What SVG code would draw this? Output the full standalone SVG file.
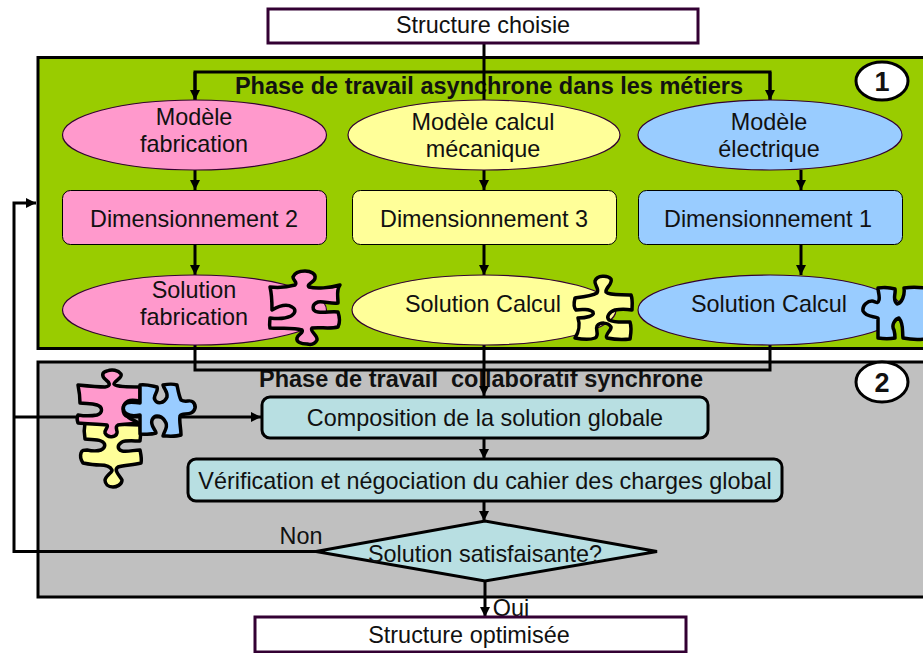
<svg xmlns="http://www.w3.org/2000/svg" width="923" height="653" viewBox="0 0 923 653">
<style>
text{font-family:"Liberation Sans",Arial,sans-serif;font-size:23.400px;fill:#111;text-anchor:middle}
.b{font-weight:bold;font-size:23.500px}
.t{font-weight:bold;font-size:27px}
.line{fill:none;stroke:#000;stroke-width:3}
.e{stroke:#330033;stroke-width:1.2}
.r{stroke:#000;stroke-width:1}
.box{fill:#fff;stroke:#330033;stroke-width:3}
.teal{fill:#b8dfe2;stroke:#000;stroke-width:3}
.p{stroke:#000;stroke-width:3.5;stroke-linejoin:round}
.pink{fill:#ff99cc}.yellow{fill:#ffff99}.blue{fill:#99ccff}
</style>
<defs><marker id="a" markerUnits="userSpaceOnUse" markerWidth="12" markerHeight="12" refX="10" refY="5" orient="auto"><path d="M0,0L10,5L0,10Z" fill="#000"/></marker></defs>
<rect width="923" height="653" fill="#fff"/>
<g id="phase1"><rect x="38" y="57.500" width="900" height="291" fill="#99cc00" stroke="#000" stroke-width="3"/><text class="b" x="489" y="94">Phase de travail asynchrone dans les métiers</text></g>
<g id="phase2"><rect x="38" y="362" width="900" height="235" fill="#c0c0c0" stroke="#000" stroke-width="3"/><text class="b" x="481" y="387">Phase de travail&#160; collaboratif synchrone</text></g>
<g id="connectors">
<path class="line" d="M484,44V112" marker-end="url(#a)"/>
<path class="line" d="M195,100V72H770V100" />
<path class="line" d="M195,72V100" marker-end="url(#a)"/>
<path class="line" d="M770,72V100" marker-end="url(#a)"/>
<path class="line" d="M195,170V190" marker-end="url(#a)"/>
<path class="line" d="M484,170V190" marker-end="url(#a)"/>
<path class="line" d="M801,170V190" marker-end="url(#a)"/>
<path class="line" d="M195,245V275" marker-end="url(#a)"/>
<path class="line" d="M484,245V275" marker-end="url(#a)"/>
<path class="line" d="M801,245V275" marker-end="url(#a)"/>
<path class="line" d="M195,345V370H770V345"/>
<path class="line" d="M484,345V396" marker-end="url(#a)"/>
<path class="line" d="M484,438V459" marker-end="url(#a)"/>
<path class="line" d="M484,501V521" marker-end="url(#a)"/>
<path class="line" d="M485,581V617" marker-end="url(#a)"/>
<path class="line" d="M316,551.500H14V203H36" marker-end="url(#a)"/>
<path class="line" d="M14,417H261" marker-end="url(#a)"/>
</g>
<g id="badge1"><ellipse cx="882" cy="81" rx="26" ry="19" fill="#fff" stroke="#000" stroke-width="3"/><text class="t" x="882" y="91">1</text></g>
<g id="badge2"><ellipse cx="882" cy="382" rx="26" ry="20" fill="#fff" stroke="#000" stroke-width="3"/><text class="t" x="882" y="392">2</text></g>
<g id="structure-choisie"><rect class="box" x="268" y="9" width="430" height="34"/><text x="483" y="33">Structure choisie</text></g>
<g id="modele-fabrication"><ellipse class="e pink" cx="194.500" cy="135" rx="132" ry="35"/><text x="194" y="125">Modèle</text><text x="194" y="152">fabrication</text></g>
<g id="modele-calcul"><ellipse class="e yellow" cx="484" cy="135" rx="136" ry="35"/><text x="483" y="130">Modèle calcul</text><text x="483" y="157">mécanique</text></g>
<g id="modele-electrique"><ellipse class="e blue" cx="770" cy="135" rx="132" ry="35"/><text x="769" y="130">Modèle</text><text x="769" y="157">électrique</text></g>
<g id="dim2"><rect class="r pink" x="62.500" y="190.500" width="264" height="54" rx="8"/><text x="194" y="227">Dimensionnement 2</text></g>
<g id="dim3"><rect class="r yellow" x="352.500" y="190.500" width="264" height="54" rx="8"/><text x="484" y="227">Dimensionnement 3</text></g>
<g id="dim1"><rect class="r blue" x="638.500" y="190.500" width="264" height="54" rx="8"/><text x="768" y="227">Dimensionnement 1</text></g>
<g id="solution-fabrication"><ellipse class="e pink" cx="194.500" cy="310" rx="132" ry="35"/><text x="194" y="298">Solution</text><text x="194" y="325">fabrication</text></g>
<g id="solution-calcul-1"><ellipse class="e yellow" cx="484" cy="310" rx="132" ry="35"/><text x="483" y="312">Solution Calcul</text></g>
<g id="solution-calcul-2"><ellipse class="e blue" cx="770" cy="310" rx="132" ry="35"/><text x="769" y="312">Solution Calcul</text></g>
<g id="puzzle-pink"><path class="p pink" d="M270,287C280,288 288,287 295,285C298,282 293,281 293,277C295,272 300,271 305,271C311,271 316,274 315,278C315,282 306,284 309,287C316,289 330,288 340,285C336,290 338,296 338,303C331,304 324,301 318,302C312,304 311,311 318,312C325,313 332,311 338,312C340,318 340,323 338,327C330,329 320,327 312,328C309,331 318,335 317,340C315,344 311,345 307,344C301,344 296,342 297,338C298,334 304,333 302,330C292,327 280,329 270,328C269,324 270,321 270,318C277,319 285,319 291,316C296,313 296,309 292,307C286,303 279,306 272,310C272,302 272,295 270,287Z"/></g>
<g id="puzzle-yellow"><path class="p yellow" d="M575,298C583,297 592,296 597,293C600,289 594,285 595,281C597,275 608,275 611,279C613,284 605,288 606,292C610,296 622,294 631,295C633,300 632,305 632,310C626,309 620,309 615,310C609,312 606,317 609,320C615,323 624,322 630,322C632,328 631,333 630,339C622,340 612,339 607,338C604,335 612,330 611,327C608,322 600,322 597,326C595,330 600,335 595,338C590,340 580,339 575,338C579,332 580,324 578,318C586,318 595,316 593,312C590,309 581,309 576,310C573,307 574,302 575,298Z"/></g>
<g id="puzzle-blue"><path class="p blue" d="M878,288C884,287 892,288 895,289C896,294 892,300 897,304C902,303 905,295 904,288C910,287 918,287 925,288V339C916,340 908,339 903,338C902,332 904,324 899,318C895,319 891,325 894,330C895,334 895,337 895,338C890,339 884,339 878,338V318C873,316 866,317 863,311C862,305 868,301 872,301C875,301 878,305 879,300C880,296 878,292 878,288Z"/></g>
<g id="puzzle-group">
<path class="p yellow" d="M85,423L140,425C141,430 141,436 140,441C134,441 126,440 122,442C117,445 117,449 122,451C128,452 134,450 140,450C141,455 142,459 141,463C133,465 124,465 118,467C113,470 120,476 122,480C122,485 116,487 113,487C108,487 105,484 105,480C106,475 113,472 112,470C110,466 106,465 100,465C94,465 88,464 83,463C81,460 80,456 81,453C82,450 84,450 87,450C92,451 98,451 101,450C106,447 106,443 101,441C96,439 90,440 85,439C84,434 84,428 85,423Z"/>
<path class="p pink" d="M78,385C88,386 98,387 105,387C112,386 109,382 106,380C101,376 102,372 107,371C112,369 118,370 121,374C123,378 114,381 114,384C116,387 130,387 140,387V401C135,400 130,400 128,401C122,404 121,414 128,417C132,420 136,421 138,423C132,424 124,424 118,425C114,427 118,431 117,433C116,437 108,439 105,433C104,430 109,427 107,425C97,424 88,424 78,423C77,420 77,417 78,415C84,416 92,416 97,415C103,413 103,407 97,405C91,403 86,404 80,403C80,396 79,390 78,385Z"/>
<path class="p blue" d="M140,385C146,384 152,386 157,387C159,392 152,396 155,400C157,404 164,404 167,397C168,392 164,389 163,385C168,384 174,384 177,385C178,390 179,396 181,400C186,403 190,399 193,402C197,406 195,411 191,413C187,415 182,413 180,416C179,422 181,428 181,435C175,437 168,436 163,436C164,431 168,428 166,423C163,416 155,413 152,420C150,426 156,430 156,433C150,435 146,434 140,434V415C135,416 130,416 127,414C122,411 122,405 127,403C131,401 136,403 140,403Z"/>
</g>
<g id="composition"><rect class="teal" x="262" y="397" width="446" height="41" rx="8"/><text x="485" y="426">Composition de la solution globale</text></g>
<g id="verification"><rect class="teal" x="188" y="459" width="594" height="42" rx="8"/><text x="485" y="489">Vérification et négociation du cahier des charges global</text></g>
<g id="decision"><path class="teal" d="M316,551.500L485,521L657,551.500L485,581Z"/><text x="485" y="562">Solution satisfaisante?</text></g>
<text x="301" y="544">Non</text>
<text x="511" y="616">Oui</text>
<g id="structure-optimisee"><rect class="box" x="255" y="617" width="431" height="35"/><text x="469" y="643">Structure optimisée</text></g>
</svg>
